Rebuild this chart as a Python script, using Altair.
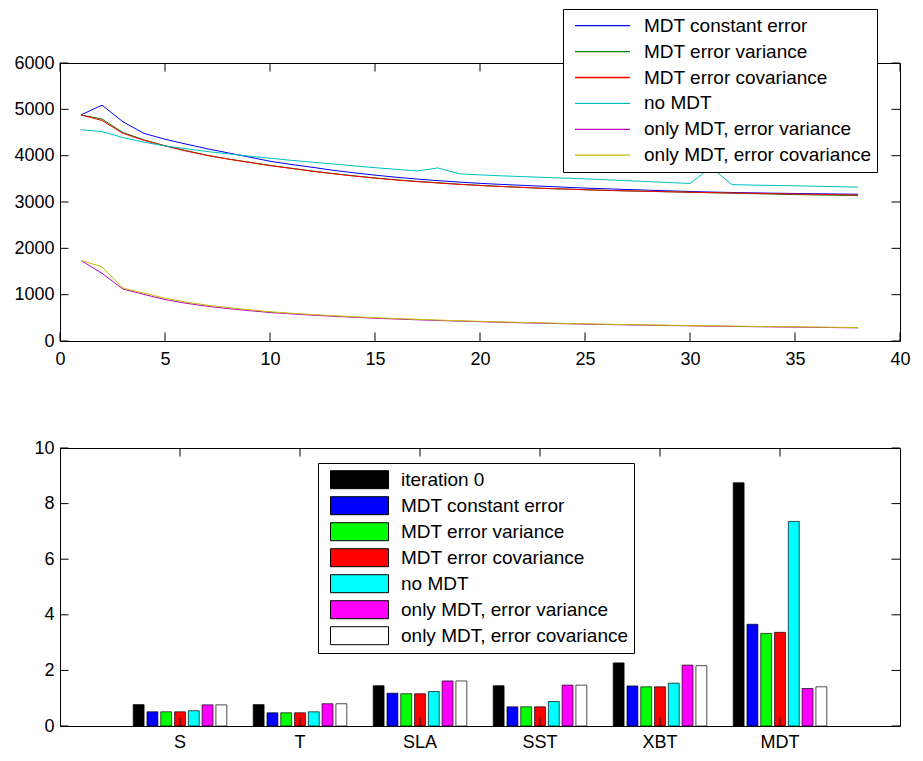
import altair as alt
import pandas as pd

FONT = "Liberation Sans"

# ---------------- data: top panel (cost per iteration) ----------------
iterations = list(range(1, 39))
line_series = [
    "MDT constant error",
    "MDT error variance",
    "MDT error covariance",
    "no MDT",
    "only MDT, error variance",
    "only MDT, error covariance",
]
line_colors = ["#0000ff", "#008000", "#ff0000", "#00bfbf", "#bf00bf", "#bfbf00"]

mdt_constant = [4880, 5090, 4730, 4480, 4355, 4250, 4150, 4060, 3970, 3880, 3810, 3750, 3685,
                3630, 3580, 3535, 3495, 3460, 3430, 3402, 3380, 3360, 3340, 3320, 3300, 3285,
                3270, 3255, 3240, 3227, 3215, 3205, 3197, 3190, 3184, 3178, 3173, 3168]
mdt_errvar = [4880, 4790, 4500, 4340, 4215, 4110, 4010, 3930, 3860, 3790, 3730, 3670, 3615,
              3565, 3520, 3480, 3445, 3415, 3385, 3360, 3335, 3315, 3295, 3280, 3265, 3250,
              3240, 3230, 3220, 3210, 3200, 3190, 3180, 3170, 3160, 3153, 3146, 3140]
mdt_errcov = [4880, 4760, 4480, 4330, 4210, 4100, 4005, 3925, 3855, 3785, 3725, 3665, 3610,
              3560, 3515, 3475, 3440, 3410, 3380, 3355, 3335, 3315, 3295, 3280, 3265, 3252,
              3240, 3230, 3220, 3212, 3203, 3195, 3188, 3180, 3172, 3165, 3158, 3150]
no_mdt = [4560, 4520, 4390, 4290, 4210, 4150, 4090, 4040, 3990, 3945, 3900, 3860, 3820,
          3780, 3740, 3705, 3670, 3735, 3610, 3585, 3565, 3548, 3532, 3516, 3500, 3480,
          3460, 3440, 3420, 3400, 3745, 3375, 3365, 3357, 3350, 3340, 3330, 3320]
only_errvar = [1740, 1460, 1120, 1005, 895, 815, 750, 700, 655, 615, 585, 558, 534, 512, 492,
               474, 458, 443, 429, 416, 404, 393, 383, 373, 364, 356, 348, 341, 334, 327,
               321, 315, 309, 304, 299, 294, 289, 284]
only_errcov = [1740, 1600, 1140, 1035, 925, 840, 775, 722, 675, 632, 600, 572, 547, 524, 503,
               485, 468, 452, 437, 424, 412, 400, 390, 380, 371, 362, 354, 347, 340, 333,
               327, 321, 315, 310, 305, 300, 295, 290]
line_values = [mdt_constant, mdt_errvar, mdt_errcov, no_mdt, only_errvar, only_errcov]

x_ticks_top = [0, 5, 10, 15, 20, 25, 30, 35, 40]
y_ticks_top = [0, 1000, 2000, 3000, 4000, 5000, 6000]

# ---------------- data: bottom panel (bars) ----------------
categories = ["S", "T", "SLA", "SST", "XBT", "MDT"]
bar_series = [
    "iteration 0",
    "MDT constant error",
    "MDT error variance",
    "MDT error covariance",
    "no MDT",
    "only MDT, error variance",
    "only MDT, error covariance",
]
bar_colors = ["#000000", "#0000ff", "#00ff00", "#ff0000", "#00ffff", "#ff00ff", "#ffffff"]

iteration0 = [0.77, 0.77, 1.45, 1.45, 2.27, 8.75]
bar_constant = [0.51, 0.475, 1.18, 0.69, 1.44, 3.66]
bar_errvar = [0.51, 0.475, 1.16, 0.69, 1.41, 3.33]
bar_errcov = [0.51, 0.475, 1.16, 0.69, 1.41, 3.37]
bar_nomdt = [0.55, 0.51, 1.24, 0.88, 1.54, 7.36]
bar_onlyvar = [0.76, 0.80, 1.62, 1.47, 2.19, 1.35]
bar_onlycov = [0.76, 0.80, 1.62, 1.47, 2.17, 1.41]
bar_values = [iteration0, bar_constant, bar_errvar, bar_errcov, bar_nomdt, bar_onlyvar, bar_onlycov]

y_ticks_bottom = [0, 2, 4, 6, 8, 10]

# ---------------- tables ----------------
line_rows = []
for name, vals in zip(line_series, line_values):
    for it, v in zip(iterations, vals):
        line_rows.append({"iteration": it, "series": name, "cost": v})
line_df = pd.DataFrame(line_rows)

bar_rows = []
for name, vals in zip(bar_series, bar_values):
    for cat, v in zip(categories, vals):
        bar_rows.append({"var": cat, "series": name, "value": v})
bar_df = pd.DataFrame(bar_rows)

xt_top_df = pd.DataFrame({"iteration": x_ticks_top})
yt_top_df = pd.DataFrame({"cost": y_ticks_top})
xt_bot_df = pd.DataFrame({"var": categories})
yt_bot_df = pd.DataFrame({"value": y_ticks_bottom})

W = 840
H = 278
TICK = 8.5


def axis(pad, values=None, fmt=None):
    kw = dict(
        domain=False, grid=False, ticks=False, labelPadding=pad, labelAngle=0,
        labelFontSize=18, labelFont=FONT, labelColor="black",
        labelFlush=False, labelOverlap=False, title=None,
    )
    if values is not None:
        kw["values"] = values
    if fmt:
        kw["format"] = fmt
    return alt.Axis(**kw)


def inward_ticks(xdf, ydf, xenc, yenc):
    rule = dict(color="black", strokeWidth=1)
    bottom_t = alt.Chart(xdf).mark_rule(**rule).encode(
        x=xenc, y=alt.value(H), y2=alt.value(H - TICK))
    top_t = alt.Chart(xdf).mark_rule(**rule).encode(
        x=xenc, y=alt.value(0), y2=alt.value(TICK))
    left_t = alt.Chart(ydf).mark_rule(**rule).encode(
        y=yenc, x=alt.value(0), x2=alt.value(TICK))
    right_t = alt.Chart(ydf).mark_rule(**rule).encode(
        y=yenc, x=alt.value(W), x2=alt.value(W - TICK))
    return [bottom_t, top_t, left_t, right_t]


# ---------------- top panel ----------------
x_top = alt.X("iteration:Q", scale=alt.Scale(domain=[0, 40], nice=False, zero=False),
              axis=axis(9, x_ticks_top, "d"))
y_top = alt.Y("cost:Q", scale=alt.Scale(domain=[0, 6000], nice=False),
              axis=axis(6, y_ticks_top, "d"))

lines = alt.Chart(line_df).mark_line(strokeWidth=1).encode(
    x=x_top,
    y=y_top,
    color=alt.Color(
        "series:N", sort=line_series,
        scale=alt.Scale(domain=line_series, range=line_colors),
        legend=alt.Legend(
            title=None, orient="none", legendX=503, legendY=-54, direction="vertical",
            symbolType="stroke", symbolSize=3025, symbolStrokeWidth=1.3,
            labelFontSize=19, labelFont=FONT, labelColor="black", labelLimit=400,
            padding=5, symbolOffset=6, labelOffset=13, clipHeight=23.4, rowPadding=1.9,
            strokeColor="black", fillColor="white",
        ),
    ),
)
top = alt.layer(lines, *inward_ticks(xt_top_df, yt_top_df, x_top, y_top)).properties(
    width=W, height=H
)

# ---------------- bottom panel ----------------
x_bot = alt.X("var:N", sort=categories,
              scale=alt.Scale(domain=categories, paddingInner=0.22, paddingOuter=0.61),
              axis=axis(7))
y_bot = alt.Y("value:Q", scale=alt.Scale(domain=[0, 10], nice=False),
              axis=axis(6, y_ticks_bottom, "d"))

bars = alt.Chart(bar_df).mark_bar(stroke="black", strokeWidth=0.7).encode(
    x=x_bot,
    xOffset=alt.XOffset("series:N", sort=bar_series,
                        scale=alt.Scale(domain=bar_series, paddingInner=0.21, paddingOuter=0)),
    y=y_bot,
    fill=alt.Fill(
        "series:N", sort=bar_series,
        scale=alt.Scale(domain=bar_series, range=bar_colors),
        legend=alt.Legend(
            title=None, orient="none", legendX=258, legendY=15, direction="vertical",
            symbolType="M-1,-0.31L1,-0.31L1,0.31L-1,0.31Z", symbolSize=3364,
            symbolStrokeColor="black", symbolStrokeWidth=1,
            labelFontSize=19, labelFont=FONT, labelColor="black", labelLimit=400,
            padding=5, symbolOffset=7, labelOffset=12, clipHeight=23.4, rowPadding=2,
            strokeColor="black", fillColor="white",
        ),
    ),
)
bottom = alt.layer(bars, *inward_ticks(xt_bot_df, yt_bot_df, x_bot, y_bot)).properties(
    width=W, height=H
)

chart = (
    alt.vconcat(top, bottom, spacing=69)
    .resolve_scale(color="independent", fill="independent")
    .resolve_legend(color="independent", fill="independent")
    .properties(padding={"left": 5, "top": 0, "right": 0, "bottom": 0}, background="white")
    .configure(font=FONT)
    .configure_view(stroke="black", strokeWidth=1)
)

chart.save("out.html", embed_options={"renderer": "svg", "actions": False})
